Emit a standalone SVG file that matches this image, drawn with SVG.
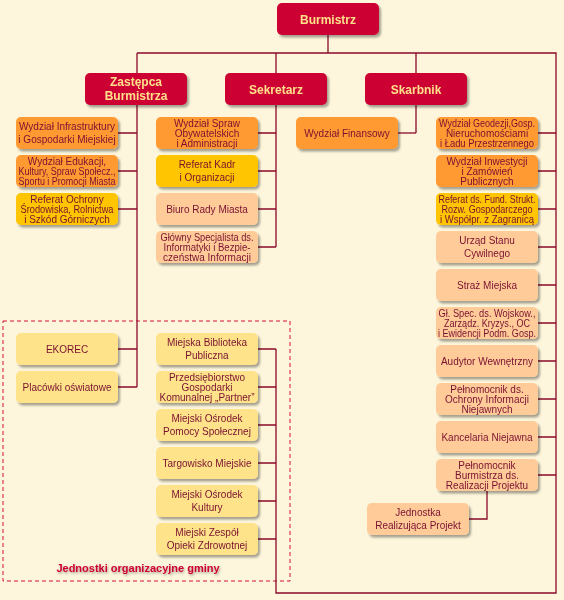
<svg xmlns="http://www.w3.org/2000/svg" width="564" height="600" viewBox="0 0 564 600">
<defs>
<filter id="sh" x="-10%" y="-10%" width="130%" height="140%">
<feDropShadow dx="2" dy="2.5" stdDeviation="1.3" flood-color="#000" flood-opacity="0.35"/>
</filter>
<filter id="tsh" x="-5%" y="-20%" width="110%" height="160%">
<feDropShadow dx="1" dy="1.5" stdDeviation="0.8" flood-color="#000" flood-opacity="0.35"/>
</filter>
</defs>
<style>
.bg{fill:#FDF6DC}
.box{filter:url(#sh)}
.box rect{rx:5;ry:5}
.red rect{fill:#CC0033}
.org rect{fill:#FF9933}
.yel rect{fill:#FFC500}
.pch rect{fill:#FFCC99}
.lye rect{fill:#FFE38A}
.box text{font-family:"Liberation Sans",Arial,sans-serif;font-size:10px;fill:#7A1030;text-anchor:middle}
.red text{font-size:12px;font-weight:bold;fill:#FFE08A}
.ln{fill:none;stroke:#8B0A2A;stroke-width:1.3}
.dash{fill:none;stroke:#D6103A;stroke-width:1;stroke-dasharray:4 3}
.lbl{font-family:"Liberation Sans",Arial,sans-serif;font-size:11px;font-weight:bold;fill:#CC0033;text-anchor:middle;filter:url(#tsh)}
</style>
<rect class="bg" x="0" y="0" width="564" height="600"/>
<rect class="dash" x="3" y="321" width="287" height="260"/>
<g id="connectors">
<path class="ln" d="M328,35V53M137,53H556V593H276V349M137,53V387M276,53V247M416,53V133"/>
<path class="ln" d="M118,133H137M118,171H137M118,209H137M118,349H137M118,387H137"/>
<path class="ln" d="M258,133H276M258,171H276M258,209H276M258,247H276"/>
<path class="ln" d="M258,349H276M258,387H276M258,425H276M258,463H276M258,501H276M258,539H276"/>
<path class="ln" d="M398,133H416"/>
<path class="ln" d="M538,133H556M538,171H556M538,209H556M538,247H556M538,285H556M538,323H556M538,361H556M538,399H556M538,437H556M538,475H556"/>
<path class="ln" d="M487,491V519H469"/>
</g>
<g id="burmistrz" class="box red"><rect x="277" y="3" width="102" height="32"/><text x="328" y="23.5">Burmistrz</text></g>
<g id="zastepca" class="box red"><rect x="85" y="73" width="102" height="32"/><text x="136" y="86">Zastępca</text><text x="136" y="99.5">Burmistrza</text></g>
<g id="sekretarz" class="box red"><rect x="225" y="73" width="102" height="32"/><text x="276" y="93.5">Sekretarz</text></g>
<g id="skarbnik" class="box red"><rect x="365" y="73" width="102" height="32"/><text x="416" y="93.5">Skarbnik</text></g>

<g id="wydz-infrastruktury" class="box org"><rect x="16" y="117" width="102" height="32"/><text x="67" y="130">Wydział Infrastruktury</text><text x="67" y="142.5">i Gospodarki Miejskiej</text></g>
<g id="wydz-edukacji" class="box org"><rect x="16" y="155" width="102" height="32"/><text x="67" y="164.5">Wydział Edukacji,</text><text x="67" y="174.5" textLength="97" lengthAdjust="spacingAndGlyphs">Kultury, Spraw Społecz.,</text><text x="67" y="184.5" textLength="97" lengthAdjust="spacingAndGlyphs">Sportu i Promocji Miasta</text></g>
<g id="ref-ochrony" class="box yel"><rect x="16" y="193" width="102" height="32"/><text x="67" y="202.5">Referat Ochrony</text><text x="67" y="212.5" textLength="93" lengthAdjust="spacingAndGlyphs">Środowiska, Rolnictwa</text><text x="67" y="222.5">i Szkód Górniczych</text></g>

<g id="wydz-spraw-obyw" class="box org"><rect x="156" y="117" width="102" height="32"/><text x="207" y="126.5">Wydział Spraw</text><text x="207" y="136.5">Obywatelskich</text><text x="207" y="146.5">i Administracji</text></g>
<g id="ref-kadr" class="box yel"><rect x="156" y="155" width="102" height="32"/><text x="207" y="168">Referat Kadr</text><text x="207" y="180.5">i Organizacji</text></g>
<g id="biuro-rady" class="box pch"><rect x="156" y="193" width="102" height="32"/><text x="207" y="212.5">Biuro Rady Miasta</text></g>
<g id="glowny-specjalista" class="box pch"><rect x="156" y="231" width="102" height="32"/><text x="207" y="240.5" textLength="93" lengthAdjust="spacingAndGlyphs">Główny Specjalista ds.</text><text x="207" y="250.5" textLength="87" lengthAdjust="spacingAndGlyphs">Informatyki i Bezpie-</text><text x="207" y="260.5">czeństwa Informacji</text></g>

<g id="wydz-finansowy" class="box org"><rect x="296" y="117" width="102" height="32"/><text x="347" y="136.5">Wydział Finansowy</text></g>

<g id="wydz-geodezji" class="box org"><rect x="436" y="117" width="102" height="32"/><text x="487" y="126.5" textLength="96" lengthAdjust="spacingAndGlyphs">Wydział Geodezji,Gosp.</text><text x="487" y="136.5">Nieruchomościami</text><text x="487" y="146.5" textLength="94" lengthAdjust="spacingAndGlyphs">i Ładu Przestrzennego</text></g>
<g id="wydz-inwestycji" class="box org"><rect x="436" y="155" width="102" height="32"/><text x="487" y="164.5">Wydział Inwestycji</text><text x="487" y="174.5">i Zamówień</text><text x="487" y="184.5">Publicznych</text></g>
<g id="ref-fund" class="box yel"><rect x="436" y="193" width="102" height="32"/><text x="487" y="202.5" textLength="97" lengthAdjust="spacingAndGlyphs">Referat ds. Fund. Strukt.</text><text x="487" y="212.5" textLength="91" lengthAdjust="spacingAndGlyphs">Rozw. Gospodarczego</text><text x="487" y="222.5" textLength="94" lengthAdjust="spacingAndGlyphs">i Współpr. z Zagranicą</text></g>
<g id="usc" class="box pch"><rect x="436" y="231" width="102" height="32"/><text x="487" y="244">Urząd Stanu</text><text x="487" y="256.5">Cywilnego</text></g>
<g id="straz" class="box pch"><rect x="436" y="269" width="102" height="32"/><text x="487" y="288.5">Straż Miejska</text></g>
<g id="gl-spec-wojsk" class="box pch"><rect x="436" y="307" width="102" height="32"/><text x="487" y="316.5" textLength="97" lengthAdjust="spacingAndGlyphs">Gł. Spec. ds. Wojskow.,</text><text x="487" y="326.5" textLength="86" lengthAdjust="spacingAndGlyphs">Zarządz. Kryzys., OC</text><text x="487" y="336.5" textLength="98" lengthAdjust="spacingAndGlyphs">i Ewidencji Podm. Gosp.</text></g>
<g id="audytor" class="box pch"><rect x="436" y="345" width="102" height="32"/><text x="487" y="364.5">Audytor Wewnętrzny</text></g>
<g id="pelnomocnik-ochrony" class="box pch"><rect x="436" y="383" width="102" height="32"/><text x="487" y="392.5">Pełnomocnik ds.</text><text x="487" y="402.5">Ochrony Informacji</text><text x="487" y="412.5">Niejawnych</text></g>
<g id="kancelaria" class="box pch"><rect x="436" y="421" width="102" height="32"/><text x="487" y="440.5">Kancelaria Niejawna</text></g>
<g id="pelnomocnik-projektu" class="box pch"><rect x="436" y="459" width="102" height="32"/><text x="487" y="468.5">Pełnomocnik</text><text x="487" y="478.5">Burmistrza ds.</text><text x="487" y="488.5">Realizacji Projektu</text></g>
<g id="jednostka-realizujaca" class="box pch"><rect x="367" y="503" width="102" height="32"/><text x="418" y="516">Jednostka</text><text x="418" y="528.5">Realizująca Projekt</text></g>

<g id="ekorec" class="box lye"><rect x="16" y="333" width="102" height="32"/><text x="67" y="352.5">EKOREC</text></g>
<g id="placowki" class="box lye"><rect x="16" y="371" width="102" height="32"/><text x="67" y="390.5">Placówki oświatowe</text></g>
<g id="biblioteka" class="box lye"><rect x="156" y="333" width="102" height="32"/><text x="207" y="346">Miejska Biblioteka</text><text x="207" y="358.5">Publiczna</text></g>
<g id="partner" class="box lye"><rect x="156" y="371" width="102" height="32"/><text x="207" y="380.5">Przedsiębiorstwo</text><text x="207" y="390.5">Gospodarki</text><text x="207" y="400.5">Komunalnej „Partner”</text></g>
<g id="mops" class="box lye"><rect x="156" y="409" width="102" height="32"/><text x="207" y="422">Miejski Ośrodek</text><text x="207" y="434.5">Pomocy Społecznej</text></g>
<g id="targowisko" class="box lye"><rect x="156" y="447" width="102" height="32"/><text x="207" y="466.5">Targowisko Miejskie</text></g>
<g id="mok" class="box lye"><rect x="156" y="485" width="102" height="32"/><text x="207" y="498">Miejski Ośrodek</text><text x="207" y="510.5">Kultury</text></g>
<g id="mzoz" class="box lye"><rect x="156" y="523" width="102" height="32"/><text x="207" y="536">Miejski Zespół</text><text x="207" y="548.5">Opieki Zdrowotnej</text></g>

<text class="lbl" x="138" y="572">Jednostki organizacyjne gminy</text>
</svg>
